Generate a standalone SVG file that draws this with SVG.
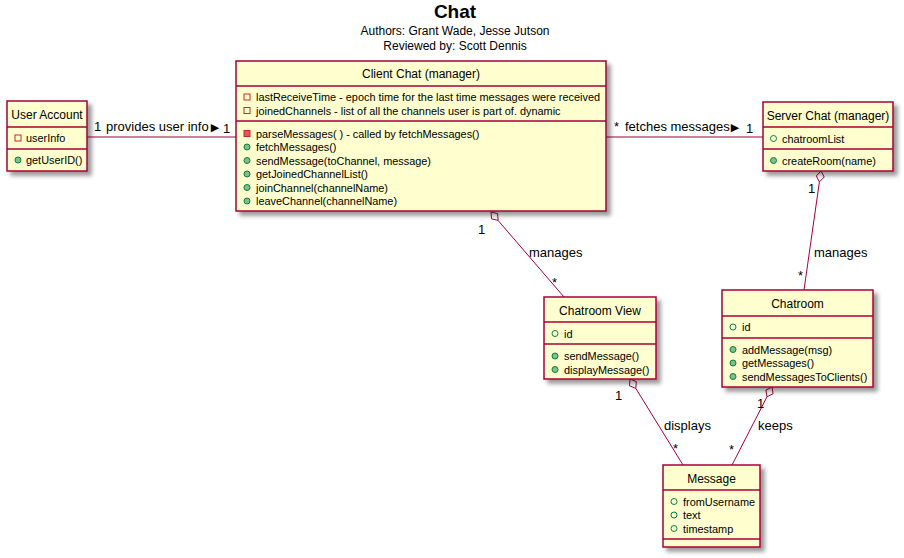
<svg xmlns="http://www.w3.org/2000/svg" width="904" height="558" viewBox="0 0 904 558">
<defs>
<filter id="sh" x="-10%" y="-10%" width="130%" height="130%">
<feGaussianBlur in="SourceAlpha" stdDeviation="2"/>
<feOffset dx="4" dy="4" result="b"/>
<feColorMatrix in="b" type="matrix" values="0 0 0 0 0  0 0 0 0 0  0 0 0 0 0  0 0 0 0.4 0"/>
<feMerge><feMergeNode/><feMergeNode in="SourceGraphic"/></feMerge>
</filter>
</defs>
<style>
.box{fill:#FEFECE;stroke:#A80036;stroke-width:1.5;filter:url(#sh)}
.sep{stroke:#A80036;stroke-width:1.5}
.ttl{font-family:"Liberation Sans",Arial,sans-serif;font-size:12px;fill:#000;text-anchor:middle}
.m{font-family:"Liberation Sans",Arial,sans-serif;font-size:10.9px;fill:#000}
.lb{font-family:"Liberation Sans",Arial,sans-serif;font-size:13px;fill:#000}
.tri{font-family:"DejaVu Sans",sans-serif;font-size:11px}
.pf{fill:none;stroke:#C82930;stroke-width:1}
.pm{fill:#F24D5C;stroke:#C82930;stroke-width:1}
.uf{fill:none;stroke:#038048;stroke-width:1}
.um{fill:#84BE84;stroke:#038048;stroke-width:1}
.ln{fill:none;stroke:#A80036;stroke-width:1}
.dia{fill:#FFFFFF;stroke:#A80036;stroke-width:1}
.h1{font-family:"Liberation Sans",Arial,sans-serif;font-size:19px;font-weight:bold;text-anchor:middle}
.h2{font-family:"Liberation Sans",Arial,sans-serif;font-size:12px;text-anchor:middle}
</style>
<rect width="904" height="558" fill="#FFFFFF"/>
<g id="title">
<text class="h1" x="455" y="18">Chat</text>
<text class="h2" x="455" y="35">Authors: Grant Wade, Jesse Jutson</text>
<text class="h2" x="455" y="50">Reviewed by: Scott Dennis</text>
</g>
<g id="connectors">
<line class="ln" x1="87" y1="137" x2="236" y2="137"/>
<text class="lb" x="94" y="131">1</text>
<text class="lb" x="106" y="131">provides user info<tspan class="tri" dx="2">▶</tspan></text>
<text class="lb" x="223" y="133">1</text>
<line class="ln" x1="606" y1="137" x2="763" y2="137"/>
<text class="lb" x="614" y="131">*</text>
<text class="lb" x="625" y="131">fetches messages<tspan class="tri" dx="1">▶</tspan></text>
<text class="lb" x="746" y="133">1</text>
<line class="ln" x1="498" y1="220.4" x2="564" y2="297"/>
<polygon class="dia" points="491,212 491.5,218.8 498.1,220.4 497.6,213.6"/>
<text class="lb" x="478" y="234">1</text>
<text class="lb" x="529" y="257">manages</text>
<text class="lb" x="552" y="287">*</text>
<line class="ln" x1="819.4" y1="181.9" x2="804" y2="290"/>
<polygon class="dia" points="821,171 816.3,175.9 819.4,181.9 824.2,177"/>
<text class="lb" x="808" y="193">1</text>
<text class="lb" x="814" y="257">manages</text>
<text class="lb" x="798" y="280">*</text>
<line class="ln" x1="635.8" y1="388.4" x2="683" y2="465"/>
<polygon class="dia" points="630,379 629.5,385.8 635.8,388.4 636.3,381.6"/>
<text class="lb" x="615" y="400">1</text>
<text class="lb" x="664" y="430">displays</text>
<text class="lb" x="673" y="453">*</text>
<line class="ln" x1="767" y1="396.8" x2="732" y2="465"/>
<polygon class="dia" points="772,387 765.9,390.1 767,396.8 773.1,393.7"/>
<text class="lb" x="757" y="408">1</text>
<text class="lb" x="758" y="430">keeps</text>
<text class="lb" x="729" y="454">*</text>
</g>
<g id="user-account">
<rect class="box" x="7" y="101" width="80" height="70"/>
<line class="sep" x1="7" y1="127" x2="87" y2="127"/>
<line class="sep" x1="7" y1="149" x2="87" y2="149"/>
<text class="ttl" x="47" y="119">User Account</text>
<rect class="pf" x="15" y="135" width="6" height="6"/>
<text class="m" x="26" y="142">userInfo</text>
<circle class="um" cx="18" cy="160" r="3"/>
<text class="m" x="26" y="164">getUserID()</text>
</g>
<g id="client-chat">
<rect class="box" x="236" y="61" width="370" height="150"/>
<line class="sep" x1="236" y1="86" x2="606" y2="86"/>
<line class="sep" x1="236" y1="121" x2="606" y2="121"/>
<text class="ttl" x="421" y="78">Client Chat (manager)</text>
<rect class="pf" x="244" y="94" width="6" height="6"/>
<text class="m" x="256" y="101">lastReceiveTime - epoch time for the last time messages were received</text>
<rect class="pf" x="244" y="107.5" width="6" height="6"/>
<text class="m" x="256" y="114.5">joinedChannels - list of all the channels user is part of. dynamic</text>
<rect class="pm" x="244" y="130.5" width="6" height="6"/>
<text class="m" x="256" y="137.5">parseMessages( ) - called by fetchMessages()</text>
<circle class="um" cx="247" cy="147" r="3"/>
<text class="m" x="256" y="151">fetchMessages()</text>
<circle class="um" cx="247" cy="160.5" r="3"/>
<text class="m" x="256" y="164.5">sendMessage(toChannel, message)</text>
<circle class="um" cx="247" cy="174" r="3"/>
<text class="m" x="256" y="178">getJoinedChannelList()</text>
<circle class="um" cx="247" cy="187.5" r="3"/>
<text class="m" x="256" y="191.5">joinChannel(channelName)</text>
<circle class="um" cx="247" cy="201" r="3"/>
<text class="m" x="256" y="205">leaveChannel(channelName)</text>
</g>
<g id="server-chat">
<rect class="box" x="763" y="102" width="130" height="69"/>
<line class="sep" x1="763" y1="127" x2="893" y2="127"/>
<line class="sep" x1="763" y1="149" x2="893" y2="149"/>
<text class="ttl" x="828" y="120">Server Chat (manager)</text>
<circle class="uf" cx="773.5" cy="138.5" r="3"/>
<text class="m" x="782" y="142.5">chatroomList</text>
<circle class="um" cx="773.5" cy="160.5" r="3"/>
<text class="m" x="782" y="164.5">createRoom(name)</text>
</g>
<g id="chatroom-view">
<rect class="box" x="544" y="297" width="112" height="82"/>
<line class="sep" x1="544" y1="322" x2="656" y2="322"/>
<line class="sep" x1="544" y1="344" x2="656" y2="344"/>
<text class="ttl" x="600" y="315">Chatroom View</text>
<circle class="uf" cx="555" cy="333.5" r="3"/>
<text class="m" x="564" y="337.5">id</text>
<circle class="um" cx="555" cy="356" r="3"/>
<text class="m" x="564" y="360">sendMessage()</text>
<circle class="um" cx="555" cy="369.5" r="3"/>
<text class="m" x="564" y="373.5">displayMessage()</text>
</g>
<g id="chatroom">
<rect class="box" x="722" y="290" width="151" height="97"/>
<line class="sep" x1="722" y1="316" x2="873" y2="316"/>
<line class="sep" x1="722" y1="338" x2="873" y2="338"/>
<text class="ttl" x="797.5" y="308">Chatroom</text>
<circle class="uf" cx="733" cy="327" r="3"/>
<text class="m" x="742" y="331">id</text>
<circle class="um" cx="733" cy="349.5" r="3"/>
<text class="m" x="742" y="353.5">addMessage(msg)</text>
<circle class="um" cx="733" cy="363" r="3"/>
<text class="m" x="742" y="367">getMessages()</text>
<circle class="um" cx="733" cy="376.5" r="3"/>
<text class="m" x="742" y="380.5">sendMessagesToClients()</text>
</g>
<g id="message">
<rect class="box" x="663" y="465" width="97" height="82"/>
<line class="sep" x1="663" y1="490" x2="760" y2="490"/>
<line class="sep" x1="663" y1="539" x2="760" y2="539"/>
<text class="ttl" x="711.5" y="483">Message</text>
<circle class="uf" cx="674" cy="501.5" r="3"/>
<text class="m" x="683" y="505.5">fromUsername</text>
<circle class="uf" cx="674" cy="515" r="3"/>
<text class="m" x="683" y="519">text</text>
<circle class="uf" cx="674" cy="528.5" r="3"/>
<text class="m" x="683" y="532.5">timestamp</text>
</g>
</svg>
